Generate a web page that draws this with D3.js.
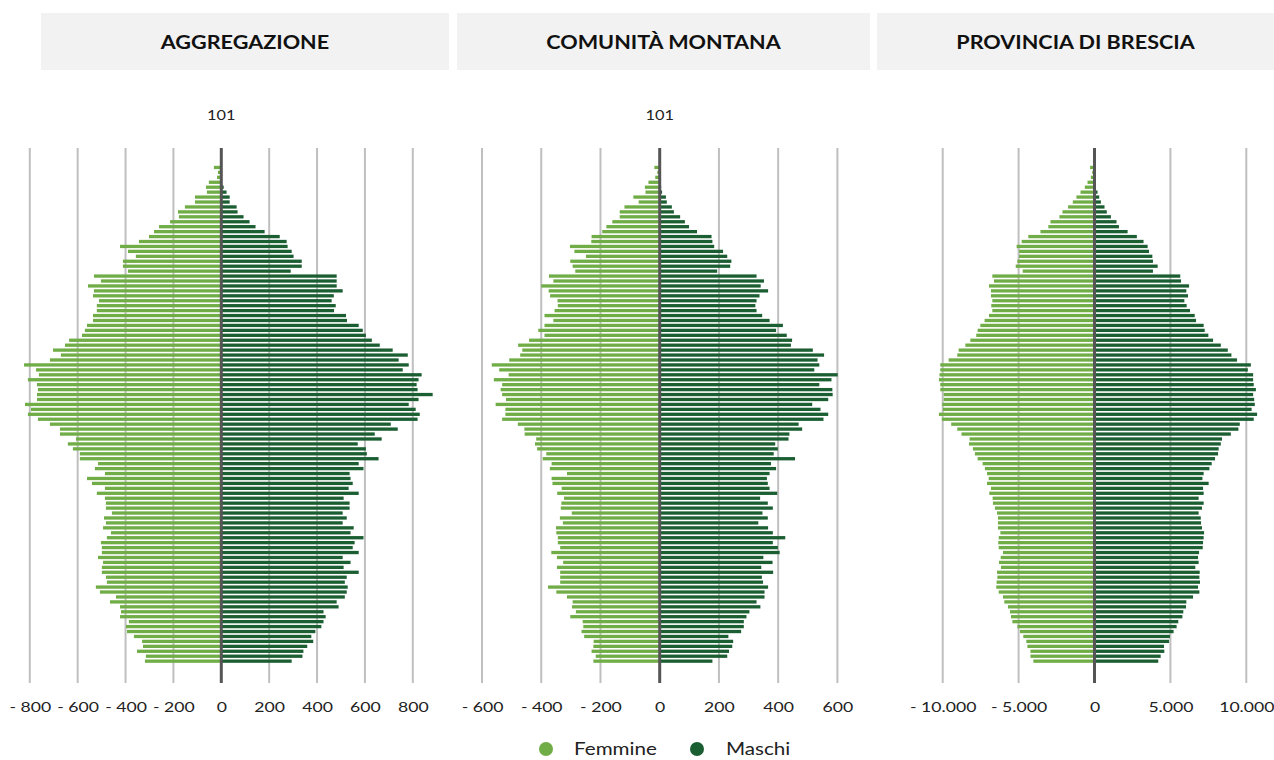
<!DOCTYPE html>
<html>
<head>
<meta charset="utf-8">
<script src="https://cdn.jsdelivr.net/npm/d3@7"></script>
<style>
  html, body { margin: 0; padding: 0; background: #ffffff; }
  svg { display: block; font-family: Lato, "Open Sans", sans-serif; }
</style>
</head>
<body>
<svg id="chart" width="1274" height="760"></svg>
<script>
// Age classes, top (100) to bottom (0)
const ages = d3.range(100, -1, -1);

const panelTitles = ["AGGREGAZIONE", "COMUNITÀ MONTANA", "PROVINCIA DI BRESCIA"];
const seriesNames = ["Femmine", "Maschi"];

// Values listed from age 100 down to age 0
const aggregazioneFemmine = [31,14,18,52,64,60,110,110,152,181,177,214,260,281,302,344,423,390,357,411,411,390,532,503,557,532,536,511,520,520,536,536,561,570,582,636,653,703,670,716,824,774,762,808,770,766,770,770,820,795,808,766,716,674,674,607,641,620,591,591,515,528,486,561,540,486,520,486,482,482,457,490,482,494,461,478,503,499,499,515,494,499,499,482,478,524,507,440,465,423,419,423,386,398,394,365,331,327,352,315,319];
const aggregazioneMaschi = [0,0,0,0,10,22,35,35,64,68,93,118,143,181,244,273,277,294,302,336,336,290,482,482,482,507,470,461,478,471,521,525,574,591,604,629,662,716,779,741,783,758,837,824,816,820,883,824,783,812,829,820,708,737,641,670,570,604,608,657,574,594,536,540,549,532,574,511,536,536,507,524,507,553,540,594,557,549,574,507,540,511,574,524,516,528,524,516,482,490,427,436,427,418,393,376,384,359,343,339,294];

const comunitaFemmine = [18,8,15,38,50,48,89,71,119,135,135,160,180,194,230,231,303,288,249,302,294,285,374,359,400,375,370,345,344,355,389,359,389,410,389,441,478,464,471,508,567,542,510,560,532,537,532,519,554,521,521,532,479,457,456,417,421,414,383,395,365,371,313,365,362,331,346,323,332,334,297,337,327,350,349,344,344,336,366,347,326,347,336,336,336,377,349,313,294,296,283,302,260,258,264,255,223,224,230,216,224];
const comunitaMaschi = [0,0,0,0,5,8,21,24,41,48,69,85,99,126,175,178,184,214,228,242,238,194,327,352,341,366,337,327,323,327,346,371,416,393,429,447,443,517,555,533,539,522,601,580,539,583,584,569,515,543,569,553,469,481,438,435,390,399,385,457,376,393,371,362,365,371,397,339,365,382,347,365,333,366,382,424,382,399,405,350,381,343,383,345,349,366,354,354,327,340,303,293,284,284,275,232,248,245,234,228,178];

const provinciaFemmine = [290,150,240,460,640,920,1190,1430,1740,2110,2310,2900,3040,3560,4360,4800,5130,4970,4970,5080,5190,4730,6730,6620,6950,6820,6820,6730,6800,6730,6950,7240,7520,7700,7790,8180,8510,8950,9040,9610,10160,10160,10210,10250,10160,10160,9940,9940,10030,9990,10250,10050,9440,9040,8760,8230,8270,8010,7880,7700,7370,7220,7080,6970,7080,6820,6930,6710,6690,6560,6420,6360,6360,6360,6200,6310,6340,6310,6030,6180,6290,6160,6420,6400,6450,6470,6310,6030,5940,5700,5570,5500,5410,5080,4910,4690,4490,4420,4220,4220,4030];
const provinciaMaschi = [0,0,0,0,90,200,310,420,660,810,1080,1450,1610,2180,2790,3230,3500,3590,3810,3850,4160,3850,5650,5700,6230,6050,6160,5920,6070,6290,6600,6690,7190,7260,7500,7810,8320,8780,9020,9390,10300,10100,10450,10450,10490,10630,10450,10520,10560,10350,10710,10490,9570,9480,8980,8400,8320,8180,8140,7940,7720,7570,7190,7110,7520,7150,7190,6860,7190,7080,6860,7000,7020,7080,7220,7190,7150,7130,6890,6820,6860,6640,6930,6910,6950,6820,6910,6490,6050,6030,5850,5790,5520,5410,5210,4970,4910,4580,4600,4360,4200];

const ticks1 = [-800,-600,-400,-200,0,200,400,600,800];
const ticks2 = [-600,-400,-200,0,200,400,600];
const ticks3 = [-10000,-5000,0,5000,10000];
const topLabel = "101";

const colors = { Femmine: "#70ad47", Maschi: "#1b5e31" };

const panels = [
  { title: panelTitles[0], f: aggregazioneFemmine, m: aggregazioneMaschi, ticks: ticks1, domain: [-800, 800], range: [29.8, 412.8], box: [41, 449], showTop: true },
  { title: panelTitles[1], f: comunitaFemmine, m: comunitaMaschi, ticks: ticks2, domain: [-600, 600], range: [482.0, 837.4], box: [457, 870], showTop: true },
  { title: panelTitles[2], f: provinciaFemmine, m: provinciaMaschi, ticks: ticks3, domain: [-10000, 10000], range: [942.7, 1246.3], box: [877, 1274], showTop: false }
];

const svg = d3.select("#chart");
const gridTop = 148, gridBottom = 683;
const textStretch = 1.26;

const y = d3.scaleBand().domain(ages).range([165.8, 662.8]).paddingInner(0.33);

const itFmt = d3.formatLocale({ decimal: ",", thousands: ".", grouping: [3], currency: ["€", ""] }).format(",.0f");
const tickFmt = v => v < 0 ? "- " + itFmt(-v) : itFmt(v);

panels.forEach(p => {
  const g = svg.append("g");
  // header box
  g.append("rect").attr("x", p.box[0]).attr("y", 13).attr("width", p.box[1] - p.box[0]).attr("height", 57).attr("fill", "#f2f2f2");
  g.append("text").attr("transform", `translate(${(p.box[0] + p.box[1]) / 2},42) scale(1.2,1)`).attr("text-anchor", "middle")
    .attr("dominant-baseline", "central").attr("font-size", 18).attr("font-weight", 700).attr("fill", "#111")
    .text(p.title);

  const x = d3.scaleLinear().domain(p.domain).range(p.range);

  // gridlines
  g.append("g").selectAll("line").data(p.ticks.filter(t => t !== 0)).join("line")
    .attr("x1", d => x(d)).attr("x2", d => x(d)).attr("y1", gridTop).attr("y2", gridBottom)
    .attr("stroke", "#bfbfbf").attr("stroke-width", 2);

  // bars
  const rows = ages.map((a, i) => ({ age: a, f: p.f[i], m: p.m[i] }));
  g.append("g").selectAll("rect").data(rows).join("rect")
    .attr("x", d => x(-d.f)).attr("width", d => x(0) - x(-d.f))
    .attr("y", d => y(d.age)).attr("height", y.bandwidth()).attr("fill", colors.Femmine);
  g.append("g").selectAll("rect").data(rows.filter(d => d.m > 0)).join("rect")
    .attr("x", x(0)).attr("width", d => x(d.m) - x(0))
    .attr("y", d => y(d.age)).attr("height", y.bandwidth()).attr("fill", colors.Maschi);

  // zero line
  g.append("line").attr("x1", x(0)).attr("x2", x(0)).attr("y1", gridTop).attr("y2", gridBottom)
    .attr("stroke", "#555").attr("stroke-width", 3);

  // axis
  const axis = d3.axisBottom(x).tickValues(p.ticks).tickFormat(tickFmt).tickSize(0).tickPadding(0);
  const ag = g.append("g").attr("transform", `translate(0, 707)`).call(axis);
  ag.select(".domain").remove();
  ag.selectAll("text").attr("font-size", 14).attr("fill", "#222").attr("font-family", "Lato, sans-serif")
    .attr("y", 0).attr("dy", "0.35em").attr("transform", `scale(${textStretch},1)`);

  if (p.showTop) {
    g.append("text").attr("transform", `translate(${x(0)},115) scale(${textStretch},1)`).attr("text-anchor", "middle")
      .attr("dominant-baseline", "central").attr("font-size", 13).attr("fill", "#222").text(topLabel);
  }
});

// legend
const legendItems = [
  { name: seriesNames[0], cx: 546, tx: 574 },
  { name: seriesNames[1], cx: 697, tx: 726 }
];
const lg = svg.append("g");
legendItems.forEach(it => {
  lg.append("circle").attr("cx", it.cx).attr("cy", 749).attr("r", 7).attr("fill", colors[it.name]);
  lg.append("text").attr("transform", `translate(${it.tx},749) scale(1.25,1)`).attr("dominant-baseline", "central")
    .attr("font-size", 16.5).attr("fill", "#222").text(it.name);
});
</script>
</body>
</html>
